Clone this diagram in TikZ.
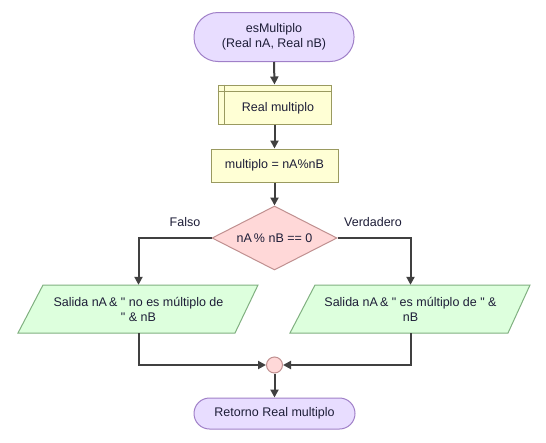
\documentclass[tikz,border=0pt]{standalone}
\usepackage{fontspec}
\setmainfont{Liberation Sans}[Ligatures=TeXOff]
\usetikzlibrary{shapes.geometric,arrows.meta}
\definecolor{termfill}{HTML}{E8DDFF}
\definecolor{termdraw}{HTML}{A080C8}
\definecolor{boxfill}{HTML}{FFFFD5}
\definecolor{boxdraw}{HTML}{9A9A60}
\definecolor{decfill}{HTML}{FFD8D8}
\definecolor{decdraw}{HTML}{C09090}
\definecolor{iofill}{HTML}{DDFFDD}
\definecolor{iodraw}{HTML}{80B080}
\definecolor{linecol}{HTML}{404040}
\definecolor{txt}{HTML}{1E1E38}
\tikzset{
  x=1pt,y=-1pt,
  every node/.style={font=\fontsize{12.5}{15}\selectfont, text=txt, inner sep=0pt},
  term/.style={draw=termdraw, fill=termfill, line width=1pt, rectangle, align=center},
  boxstyle/.style={draw=boxdraw, fill=boxfill, line width=1pt, rectangle, align=center},
  decstyle/.style={draw=decdraw, fill=decfill, line width=1pt, diamond, shape aspect=1.95, minimum width=125pt, minimum height=64pt},
  iostyle/.style={draw=iodraw, fill=iofill, line width=1pt},
  conn/.style={draw=linecol, line width=2pt, -{Triangle[length=8pt,width=8pt]}},
  lbl/.style={font=\fontsize{12.5}{15}\selectfont}
}
\begin{document}
\begin{tikzpicture}
\useasboundingbox[fill=white] (0,0) rectangle (546,442);
% start
\node[term, minimum width=160pt, minimum height=49pt, rounded corners=24pt] (start) at (274,37) {esMultiplo\\(Real nA, Real nB)};
% declaration
\node[boxstyle, minimum width=113pt, minimum height=39pt] (decl) at (274.5,104.5) {};
\draw[boxdraw, line width=1pt] ([xshift=7pt]decl.north west) -- ([xshift=7pt]decl.south west);
\draw[boxdraw, line width=1pt] ([yshift=-7pt]decl.north west) -- ([yshift=-7pt]decl.north east);
\node (decltext) at ([xshift=3.5pt,yshift=-3.5pt]decl.center) {Real multiplo};
% assignment
\node[boxstyle, minimum width=127pt, minimum height=33pt] (assign) at (274.5,165.5) {multiplo = nA\%nB};
% decision
\node[decstyle] (dec) at (274.5,238) {nA\,\% nB == 0};
% outputs
\draw[iostyle] (43,285) -- (258,285) -- (235,333) -- (18,333) -- cycle;
\node[minimum width=200pt, minimum height=48pt, align=center] (L) at (138.5,309) {Salida nA\,\& " no es múltiplo de\\" \& nB};
\draw[iostyle] (315,285) -- (530,285) -- (508,333) -- (290,333) -- cycle;
\node[minimum width=200pt, minimum height=48pt, align=center] (R) at (410.5,309) {Salida nA\,\& " es múltiplo de " \&\\nB};
% merge
\node[circle, draw=decdraw, fill=decfill, line width=1pt, minimum size=16pt] (merge) at (274.5,365) {};
% end
\node[term, minimum width=161pt, minimum height=31pt, rounded corners=15.5pt] (end) at (274.5,413.5) {Retorno Real multiplo};
% labels
\node[lbl] (falso) at (185,222) {Falso};
\node[lbl] (verd) at (373,222) {Verdadero};
% connectors
\draw[conn] (start.south) -- (decl.north);
\draw[conn] (decl.south) -- (assign.north);
\draw[conn] (assign.south) -- (dec.north);
\draw[conn] (dec.west) -| (L.north);
\draw[conn] (dec.east) -| (R.north);
\draw[conn] (L.south) |- (merge.west);
\draw[conn] (R.south) |- (merge.east);
\draw[conn] (merge.south) -- (end.north);
\end{tikzpicture}
\end{document}
